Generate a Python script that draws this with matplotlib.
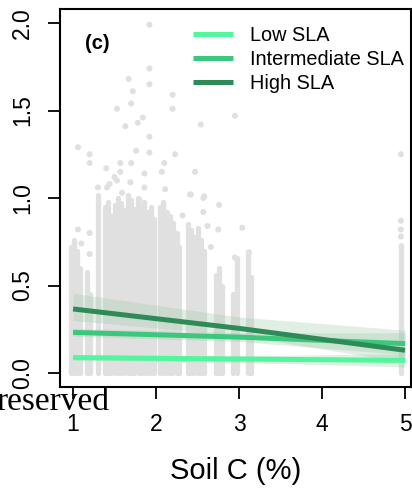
import matplotlib
matplotlib.use('Agg')
import matplotlib.pyplot as plt

plt.rcParams['font.family'] = ['Liberation Sans', 'DejaVu Sans']

# dense vertical stripes of observations: x position and top of the stripe
col_x = [0.97, 1.01, 1.05, 1.08, 1.17, 1.21, 1.30,
         1.38, 1.42, 1.46, 1.50, 1.54, 1.58, 1.62, 1.66, 1.70, 1.74,
         1.78, 1.82, 1.86, 1.90, 1.94, 1.97,
         2.05, 2.09, 2.13, 2.17, 2.21, 2.25, 2.28,
         2.38, 2.42, 2.46, 2.50, 2.54, 2.58,
         2.72, 2.76, 2.80, 2.93, 2.97, 3.11, 3.14, 4.95]
col_top = [0.72, 0.76, 0.70, 0.60, 0.58, 0.45, 1.02,
           0.95, 0.98, 0.90, 0.96, 1.00, 0.97, 0.93, 1.02, 0.99, 0.94,
           1.00, 0.96, 0.98, 0.92, 0.95, 0.88,
           0.95, 0.98, 0.92, 0.90, 0.86, 0.80, 0.72,
           0.85, 0.82, 0.78, 0.83, 0.76, 0.70,
           0.56, 0.60, 0.50, 0.45, 0.66, 0.69, 0.55, 0.73]

# scattered observations above the stripes
pt_x = [1.92, 1.92, 1.67, 1.92, 1.72, 2.20, 1.70, 1.53, 2.20, 1.84,
        1.78, 1.63, 2.95, 2.54, 1.92, 1.06, 1.20, 1.76, 1.92, 2.23,
        1.20, 1.40, 1.57, 1.70, 2.10, 2.47, 2.07, 1.57, 1.86, 1.53,
        1.69, 1.86, 1.30, 1.41, 1.59, 2.11, 2.41, 2.58, 2.76, 1.80,
        2.42, 2.57, 2.57, 3.04, 2.75, 3.12, 2.95, 4.95, 4.95, 4.95,
        4.95, 1.20, 1.20, 1.06, 1.44, 1.50, 1.10, 2.32, 2.62, 2.66]
pt_y = [1.99, 1.74, 1.68, 1.65, 1.61, 1.59, 1.54, 1.51, 1.51, 1.46,
        1.43, 1.41, 1.47, 1.42, 1.35, 1.29, 1.25, 1.27, 1.26, 1.25,
        1.20, 1.17, 1.20, 1.20, 1.20, 1.15, 1.15, 1.15, 1.14, 1.10,
        1.09, 1.06, 1.06, 1.06, 1.03, 1.05, 1.02, 1.01, 0.96, 0.99,
        1.02, 1.00, 0.92, 0.83, 0.82, 0.69, 0.66, 1.25, 0.87, 0.82,
        0.78, 0.80, 0.68, 0.82, 1.08, 1.12, 0.74, 0.90, 0.84, 0.72]

# fitted curves with confidence bands
fit_x = [1, 3, 5]
fits = {
    'Low SLA': {'y': [0.088, 0.080, 0.072], 'lo': [0.075, 0.060, 0.035],
                'hi': [0.102, 0.098, 0.110], 'color': '#50F79C'},
    'Intermediate SLA': {'y': [0.232, 0.205, 0.168], 'lo': [0.210, 0.180, 0.105],
                         'hi': [0.255, 0.230, 0.230], 'color': '#3CC87C'},
    'High SLA': {'y': [0.366, 0.255, 0.130], 'lo': [0.300, 0.215, 0.060],
                 'hi': [0.455, 0.320, 0.245], 'color': '#2E8B57'},
}

x_ticks = [1, 2, 3, 4, 5]
y_ticks = [0.0, 0.5, 1.0, 1.5, 2.0]
y_tick_labels = ['0.0', '0.5', '1.0', '1.5', '2.0']

fig = plt.figure(figsize=(4.12, 4.9), dpi=100)
ax = fig.add_axes([60 / 412, 103 / 490, 351 / 412, 378 / 490])

ax.vlines(col_x, 0.0, col_top, colors='#e0e0e0', linewidth=3.8,
          capstyle='round', zorder=1)
ax.scatter(pt_x, pt_y, s=19, color='#e0e0e0', edgecolors='none', zorder=1)

for name in fits:
    f = fits[name]
    ax.fill_between(fit_x, f['lo'], f['hi'], color='#9cc9a8', alpha=0.3,
                    linewidth=0, zorder=2)
for name in fits:
    f = fits[name]
    ax.plot(fit_x, f['y'], color=f['color'], linewidth=3.6,
            solid_capstyle='butt', label=name, zorder=3)

ax.set_xlim(0.843, 5.072)
ax.set_ylim(-0.08, 2.08)
ax.set_xticks(x_ticks)
ax.set_yticks(y_ticks)
ax.set_yticklabels(y_tick_labels, rotation=90, va='center')
ax.tick_params(length=8.6, width=1.3, labelsize=16.5, pad=10)
for side in ax.spines:
    ax.spines[side].set_linewidth(1.5)

ax.set_xlabel('Soil C (%)', fontsize=21, labelpad=15)
ax.text(0.071, 0.91, '(c)', transform=ax.transAxes, fontsize=14.5,
        fontweight='bold', va='center', ha='left')

ax.legend(loc='upper left', bbox_to_anchor=((193 - 60) / 351, 0.954),
          frameon=False, fontsize=14.3, handlelength=2.0,
          handletextpad=0.85, labelspacing=0.25, borderpad=0,
          borderaxespad=0)

fig.text(-0.008, 1 - 410 / 490, 'reserved', fontsize=24,
         family=['Liberation Serif', 'DejaVu Serif'], va='baseline', ha='left')

fig.savefig('out.png', dpi=100)
